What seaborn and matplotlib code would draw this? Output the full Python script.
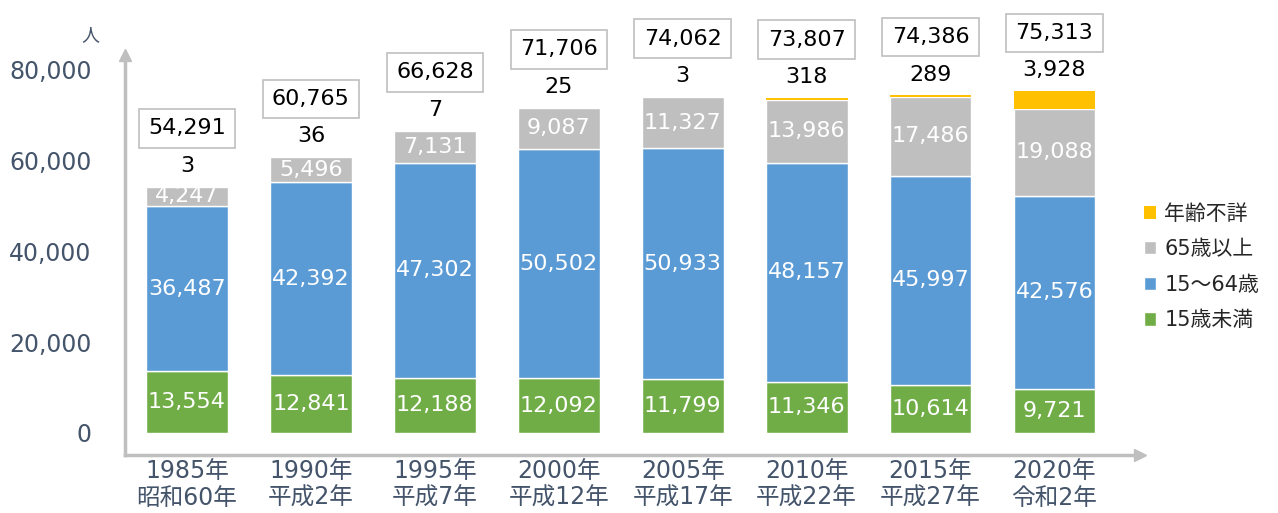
import numpy as np
import pandas as pd
import seaborn as sns
import matplotlib.pyplot as plt

# census figures, persons
years = ["1985年\n昭和60年", "1990年\n平成2年", "1995年\n平成7年", "2000年\n平成12年",
         "2005年\n平成17年", "2010年\n平成22年", "2015年\n平成27年", "2020年\n令和2年"]
under15 = [13554, 12841, 12188, 12092, 11799, 11346, 10614, 9721]
age15_64 = [36487, 42392, 47302, 50502, 50933, 48157, 45997, 42576]
over65 = [4247, 5496, 7131, 9087, 11327, 13986, 17486, 19088]
unknown = [3, 36, 7, 25, 3, 318, 289, 3928]
totals = [54291, 60765, 66628, 71706, 74062, 73807, 74386, 75313]

sns.set_style("white")
plt.rcParams['font.family'] = ['DejaVu Sans', 'Noto Sans CJK JP']

df = pd.DataFrame({"year": years, "u15": under15, "mid": age15_64,
                   "o65": over65, "unk": unknown})

fig = plt.figure(figsize=(12.78, 5.13), dpi=100)
ax = fig.add_axes([125 / 1278, (513 - 455) / 513, (1140 - 125) / 1278, 400 / 513])

green = "#70AD47"
blue = "#5B9BD5"
grey = "#BFBFBF"
yellow = "#FFC000"

# stack the four groups
b1 = np.array(under15)
b2 = b1 + np.array(age15_64)
b3 = b2 + np.array(over65)
kw = dict(width=0.66, ax=ax, saturation=1)
sns.barplot(data=df, x="year", y="u15", color=green, edgecolor="white", linewidth=1,
            label="15歳未満", **kw)
sns.barplot(data=df, x="year", y="mid", bottom=b1, color=blue, edgecolor="white",
            linewidth=1, label="15～64歳", **kw)
sns.barplot(data=df, x="year", y="o65", bottom=b2, color=grey, edgecolor="white",
            linewidth=1, label="65歳以上", **kw)
sns.barplot(data=df, x="year", y="unk", bottom=b3, color=yellow, linewidth=0,
            label="年齢不詳", **kw)

for cont, vals in zip(ax.containers[:3], [under15, age15_64, over65]):
    ax.bar_label(cont, labels=[f"{v:,}" for v in vals], label_type="center",
                 color="white", fontsize=16)

for i in range(len(years)):
    top = totals[i]
    ax.annotate(f"{unknown[i]:,}", (i, top), xytext=(0, 15), textcoords="offset points",
                ha="center", va="center", fontsize=16, color="black")
    ax.annotate(f"{totals[i]:,}", (i, top), xytext=(0, 42), textcoords="offset points",
                ha="center", va="center", fontsize=16, color="black",
                bbox=dict(boxstyle="square,pad=0.42", fc="white", ec=grey, lw=1.2))

ax.set_xlim(-0.5, 7.69)
ax.set_ylim(-4850, 83300)
ax.set_yticks(range(0, 80001, 20000))
ax.set_yticklabels([f"{v:,}" for v in range(0, 80001, 20000)])
ax.tick_params(axis="both", length=0, labelsize=17, labelcolor="#44546A")
ax.tick_params(axis="y", pad=24)
ax.tick_params(axis="x", pad=3)
for t in ax.get_xticklabels():
    t.set_linespacing(1.15)
ax.set_xlabel("")
ax.set_ylabel("")

sns.despine(ax=ax)
for s in ["left", "bottom"]:
    ax.spines[s].set_color(grey)
    ax.spines[s].set_linewidth(2.5)
ax.plot(0, 1, "^", color=grey, markersize=9, transform=ax.transAxes, clip_on=False)
ax.plot(1, 0, ">", color=grey, markersize=9, transform=ax.transAxes, clip_on=False)

fig.text(90 / 1278, 1 - 35 / 513, "人", fontsize=13, color="#44546A", ha="center", va="center")

h, l = ax.get_legend_handles_labels()
ax.legend(h[::-1], l[::-1], loc="center left", bbox_to_anchor=(0.985, 0.47), frameon=False,
          fontsize=15, handlelength=0.6, handleheight=0.6, handletextpad=0.4,
          labelspacing=0.75)

fig.savefig("out.png", dpi=100)
